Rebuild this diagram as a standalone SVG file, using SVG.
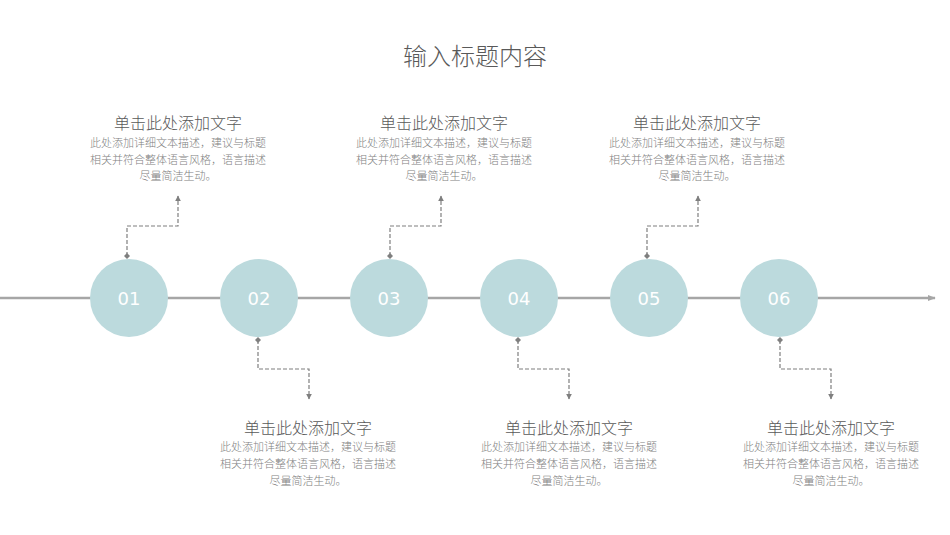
<svg xmlns="http://www.w3.org/2000/svg" width="950" height="535" viewBox="0 0 950 535">
<style>
.t{font-family:"Noto Sans CJK SC","Noto Sans",sans-serif;text-anchor:middle;font-weight:300}
.main{font-size:24px;fill:#595959}
.h{font-size:16px;fill:#595959}
.d{font-size:11px;fill:#7f7f7f}
.c{fill:#bcdadd}
.n{font-family:"DejaVu Sans","Noto Sans",sans-serif;font-size:18px;fill:#ffffff;text-anchor:middle}
.dash{fill:none;stroke:#7f7f7f;stroke-width:1.2;stroke-dasharray:4 2}
</style>
<defs>
<marker id="tri" viewBox="0 0 10 10" refX="9" refY="5" markerWidth="6" markerHeight="6" orient="auto" markerUnits="userSpaceOnUse"><path d="M0,0 L10,5 L0,10 Z" fill="#7f7f7f"/></marker>
<marker id="dia" viewBox="0 0 10 10" refX="5" refY="5" markerWidth="6" markerHeight="6" orient="auto" markerUnits="userSpaceOnUse"><path d="M5,0 L10,5 L5,10 L0,5 Z" fill="#7f7f7f"/></marker>
<marker id="big" viewBox="0 0 10 10" refX="9" refY="5" markerWidth="8" markerHeight="8" orient="auto" markerUnits="userSpaceOnUse"><path d="M0,1 L10,5 L0,9 Z" fill="#a6a6a6"/></marker>
</defs>
<text class="t main" x="475" y="65">输入标题内容</text>
<g id="connectors">
<line x1="0" y1="298" x2="935" y2="298" stroke="#a6a6a6" stroke-width="2.5" marker-end="url(#big)"/>
<path class="dash" d="M127,256 V226 H178 V196" marker-start="url(#dia)" marker-end="url(#tri)"/>
<path class="dash" d="M258,340 V369 H309 V399" marker-start="url(#dia)" marker-end="url(#tri)"/>
<path class="dash" d="M390,256 V226 H441 V196" marker-start="url(#dia)" marker-end="url(#tri)"/>
<path class="dash" d="M518,340 V369 H569 V399" marker-start="url(#dia)" marker-end="url(#tri)"/>
<path class="dash" d="M647,256 V226 H698 V196" marker-start="url(#dia)" marker-end="url(#tri)"/>
<path class="dash" d="M780,340 V369 H831 V399" marker-start="url(#dia)" marker-end="url(#tri)"/>
</g>
<g id="node01"><circle class="c" cx="129" cy="298" r="39"/><text class="n" x="129" y="305">01</text></g>
<g id="node02"><circle class="c" cx="259" cy="298" r="39"/><text class="n" x="259" y="305">02</text></g>
<g id="node03"><circle class="c" cx="389" cy="298" r="39"/><text class="n" x="389" y="305">03</text></g>
<g id="node04"><circle class="c" cx="519" cy="298" r="39"/><text class="n" x="519" y="305">04</text></g>
<g id="node05"><circle class="c" cx="649" cy="298" r="39"/><text class="n" x="649" y="305">05</text></g>
<g id="node06"><circle class="c" cx="779" cy="298" r="39"/><text class="n" x="779" y="305">06</text></g>
<g id="text1">
<text class="t h" x="178" y="129">单击此处添加文字</text>
<text class="t d" x="178" y="147">此处添加详细文本描述，建议与标题</text>
<text class="t d" x="178" y="164">相关并符合整体语言风格，语言描述</text>
<text class="t d" x="178" y="180">尽量简洁生动。</text>
</g>
<g id="text3">
<text class="t h" x="444" y="129">单击此处添加文字</text>
<text class="t d" x="444" y="147">此处添加详细文本描述，建议与标题</text>
<text class="t d" x="444" y="164">相关并符合整体语言风格，语言描述</text>
<text class="t d" x="444" y="180">尽量简洁生动。</text>
</g>
<g id="text5">
<text class="t h" x="697" y="129">单击此处添加文字</text>
<text class="t d" x="697" y="147">此处添加详细文本描述，建议与标题</text>
<text class="t d" x="697" y="164">相关并符合整体语言风格，语言描述</text>
<text class="t d" x="697" y="180">尽量简洁生动。</text>
</g>
<g id="text2">
<text class="t h" x="308" y="434">单击此处添加文字</text>
<text class="t d" x="308" y="451">此处添加详细文本描述，建议与标题</text>
<text class="t d" x="308" y="468">相关并符合整体语言风格，语言描述</text>
<text class="t d" x="308" y="485">尽量简洁生动。</text>
</g>
<g id="text4">
<text class="t h" x="569" y="434">单击此处添加文字</text>
<text class="t d" x="569" y="451">此处添加详细文本描述，建议与标题</text>
<text class="t d" x="569" y="468">相关并符合整体语言风格，语言描述</text>
<text class="t d" x="569" y="485">尽量简洁生动。</text>
</g>
<g id="text6">
<text class="t h" x="831" y="434">单击此处添加文字</text>
<text class="t d" x="831" y="451">此处添加详细文本描述，建议与标题</text>
<text class="t d" x="831" y="468">相关并符合整体语言风格，语言描述</text>
<text class="t d" x="831" y="485">尽量简洁生动。</text>
</g>
</svg>
